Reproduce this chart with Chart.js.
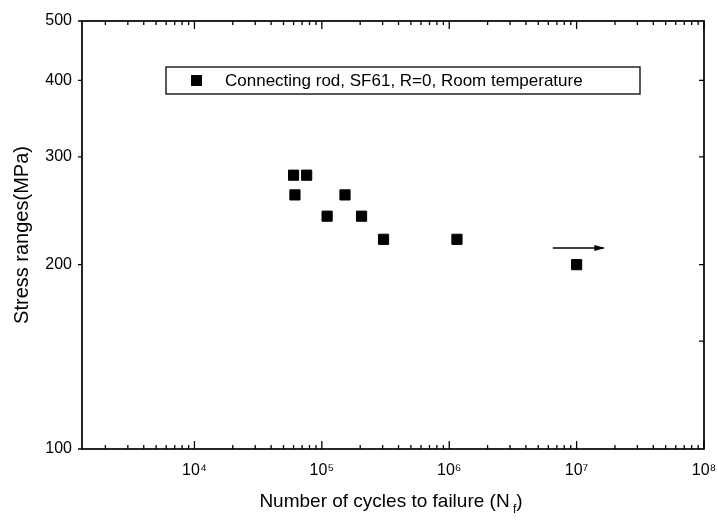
<!DOCTYPE html>
<html>
<head>
<meta charset="utf-8">
<script src="https://cdn.jsdelivr.net/npm/chart.js@4"></script>
<style>
    body { margin: 0; background: #fff; }
    canvas { display: block; }
</style>
</head>
<body>
<canvas id="sn-chart" width="718" height="525"></canvas>
<script>
// fatigue data, cycles vs stress range
const cycles = [60000, 76000, 61500, 152000, 110000, 205000, 305000, 1150000, 10000000];
const stressRanges = [280, 280, 260, 260, 240, 240, 220, 220, 200];
const seriesLabel = 'Connecting rod, SF61, R=0, Room temperature';

// run-out arrow next to the last specimen
const runoutCycles = [6500000, 16200000];
const runoutStress = [213, 213];

const xMajorTicks = [1e4, 1e5, 1e6, 1e7, 1e8];
const xTickLabels = ['10\u2074', '10\u2075', '10\u2076', '10\u2077', '10\u2078'];
const xMinorMultipliers = [2, 3, 4, 5, 6, 7, 8, 9];
const yMajorTicks = [100, 200, 300, 400, 500];
const yTickLabels = ['100', '200', '300', '400', '500'];
const yRightTicks = [150, 200, 300, 400];

const FONT = '"Liberation Sans", Arial, sans-serif';

const framePlugin = {
    id: 'frame',
    afterDraw(chart) {
        const ctx = chart.ctx;
        const a = chart.chartArea;
        const xs = chart.scales.x;
        const ys = chart.scales.y;
        ctx.save();
        ctx.strokeStyle = '#000';
        ctx.lineWidth = 1.7;
        ctx.strokeRect(a.left, a.top, a.right - a.left, a.bottom - a.top);

        ctx.lineWidth = 1.3;
        ctx.beginPath();
        // minor ticks top and bottom
        for (let d = 3; d < 8; d++) {
            xMinorMultipliers.forEach(m => {
                const v = m * Math.pow(10, d);
                if (v < xs.min || v > xs.max) return;
                const px = xs.getPixelForValue(v);
                ctx.moveTo(px, a.bottom); ctx.lineTo(px, a.bottom - 4);
                ctx.moveTo(px, a.top); ctx.lineTo(px, a.top + 4);
            });
        }
        xMajorTicks.forEach(v => {
            const px = xs.getPixelForValue(v);
            ctx.moveTo(px, a.bottom); ctx.lineTo(px, a.bottom - 8);
            ctx.moveTo(px, a.top); ctx.lineTo(px, a.top + 8);
        });
        yMajorTicks.forEach(v => {
            const py = ys.getPixelForValue(v);
            ctx.moveTo(a.left, py); ctx.lineTo(a.left - 4, py);
        });
        yRightTicks.forEach(v => {
            const py = ys.getPixelForValue(v);
            ctx.moveTo(a.right, py); ctx.lineTo(a.right - 5, py);
        });
        ctx.stroke();

        // arrow head on the run-out line
        const n = runoutCycles.length - 1;
        const ax = xs.getPixelForValue(runoutCycles[n]);
        const ay = ys.getPixelForValue(runoutStress[n]);
        ctx.fillStyle = '#000';
        ctx.beginPath();
        ctx.moveTo(ax + 2, ay);
        ctx.lineTo(ax - 9, ay - 3);
        ctx.lineTo(ax - 9, ay + 3);
        ctx.closePath();
        ctx.fill();

        // legend box
        const bx = a.left + 84, by = a.top + 46, bw = 474, bh = 27;
        ctx.lineWidth = 1.3;
        ctx.strokeRect(bx, by, bw, bh);
        ctx.fillRect(bx + 25, by + bh / 2 - 5.5, 11, 11);
        ctx.font = '17px ' + FONT;
        ctx.textBaseline = 'middle';
        ctx.textAlign = 'left';
        ctx.fillText(chart.data.datasets[0].label, bx + 59, by + bh / 2 + 1);

        // x axis title with subscript
        const main = 'Number of cycles to failure (N';
        ctx.font = '19px ' + FONT;
        const wMain = ctx.measureText(main).width;
        const wClose = ctx.measureText(')').width;
        ctx.font = '12px ' + FONT;
        const wSub = ctx.measureText(' f').width;
        const total = wMain + wSub + wClose;
        let tx = (a.left + a.right) / 2 - total / 2 - 2;
        const ty = 502;
        ctx.font = '19px ' + FONT;
        ctx.fillText(main, tx, ty);
        tx += wMain;
        ctx.font = '12px ' + FONT;
        ctx.fillText(' f', tx, ty + 8);
        tx += wSub;
        ctx.font = '19px ' + FONT;
        ctx.fillText(')', tx, ty);
        ctx.restore();
    }
};

function buildChart() {
    const ctx = document.getElementById('sn-chart');
    Chart.defaults.color = '#000';
    Chart.defaults.font.family = FONT;

    return new Chart(ctx, {
        type: 'scatter',
        data: {
            datasets: [
                {
                    label: seriesLabel,
                    data: cycles.map((c, i) => ({ x: c, y: stressRanges[i] })),
                    pointStyle: 'rect',
                    pointRadius: 7.2,
                    backgroundColor: '#000',
                    borderColor: '#000',
                    borderWidth: 1
                },
                {
                    label: 'run-out',
                    data: runoutCycles.map((c, i) => ({ x: c, y: runoutStress[i] })),
                    showLine: true,
                    pointRadius: 0,
                    borderColor: '#000',
                    borderWidth: 1.5
                }
            ]
        },
        options: {
            responsive: false,
            animation: false,
            layout: { padding: { top: 21, right: 14, left: 0, bottom: 0 } },
            plugins: {
                legend: { display: false },
                tooltip: { enabled: false }
            },
            scales: {
                x: {
                    type: 'logarithmic',
                    min: 1310,
                    max: 1e8,
                    grid: { display: false, drawTicks: false },
                    border: { display: false },
                    afterBuildTicks: (scale) => {
                        scale.ticks = xMajorTicks.map(v => ({ value: v }));
                    },
                    afterFit: (scale) => {
                        scale.height = 76;
                        scale.paddingLeft = 0;
                        scale.paddingRight = 0;
                    },
                    ticks: {
                        autoSkip: false,
                        maxRotation: 0,
                        padding: 12,
                        font: { size: 16 },
                        callback: (v) => {
                            const i = xMajorTicks.indexOf(v);
                            return i >= 0 ? xTickLabels[i] : '';
                        }
                    }
                },
                y: {
                    type: 'logarithmic',
                    min: 100,
                    max: 500,
                    grid: { display: false, drawTicks: false },
                    border: { display: false },
                    afterBuildTicks: (scale) => {
                        scale.ticks = yMajorTicks.map(v => ({ value: v }));
                    },
                    afterFit: (scale) => {
                        scale.width = 82;
                        scale.paddingTop = 0;
                        scale.paddingBottom = 0;
                    },
                    title: {
                        display: true,
                        text: 'Stress ranges(MPa)',
                        font: { size: 20 },
                        padding: { top: 10, bottom: 0 }
                    },
                    ticks: {
                        autoSkip: false,
                        padding: 10,
                        font: { size: 16 },
                        callback: (v) => {
                            const i = yMajorTicks.indexOf(v);
                            return i >= 0 ? yTickLabels[i] : '';
                        }
                    }
                }
            }
        },
        plugins: [framePlugin]
    });
}

buildChart();
</script>
</body>
</html>
